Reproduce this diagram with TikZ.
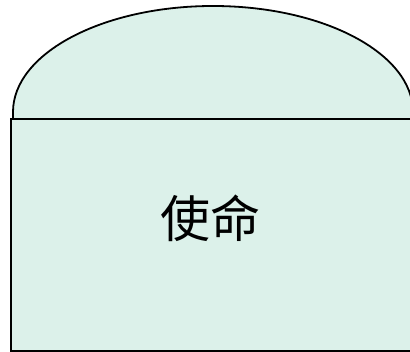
\documentclass[tikz,border=0pt]{standalone}
\usepackage{fontspec}
\newfontfamily\cjk{Noto Sans CJK SC}
\definecolor{mint}{RGB}{220,241,234}
\begin{document}
\begin{tikzpicture}[x=1pt,y=1pt,
  outline/.style={draw=black,line width=1.8pt,fill=mint}]
\useasboundingbox (0,0) rectangle (410,352);
\clip (0,0) rectangle (410,352);
\draw[outline] (13,233) -- (13,240) arc[start angle=180,end angle=0,x radius=200,y radius=106] -- (413,233);
\draw[outline] (11,1) rectangle (420,233);
\node[inner sep=0pt,font=\cjk\fontsize{50}{50}\selectfont] (t) at (210,134) {使命};
\end{tikzpicture}
\end{document}
